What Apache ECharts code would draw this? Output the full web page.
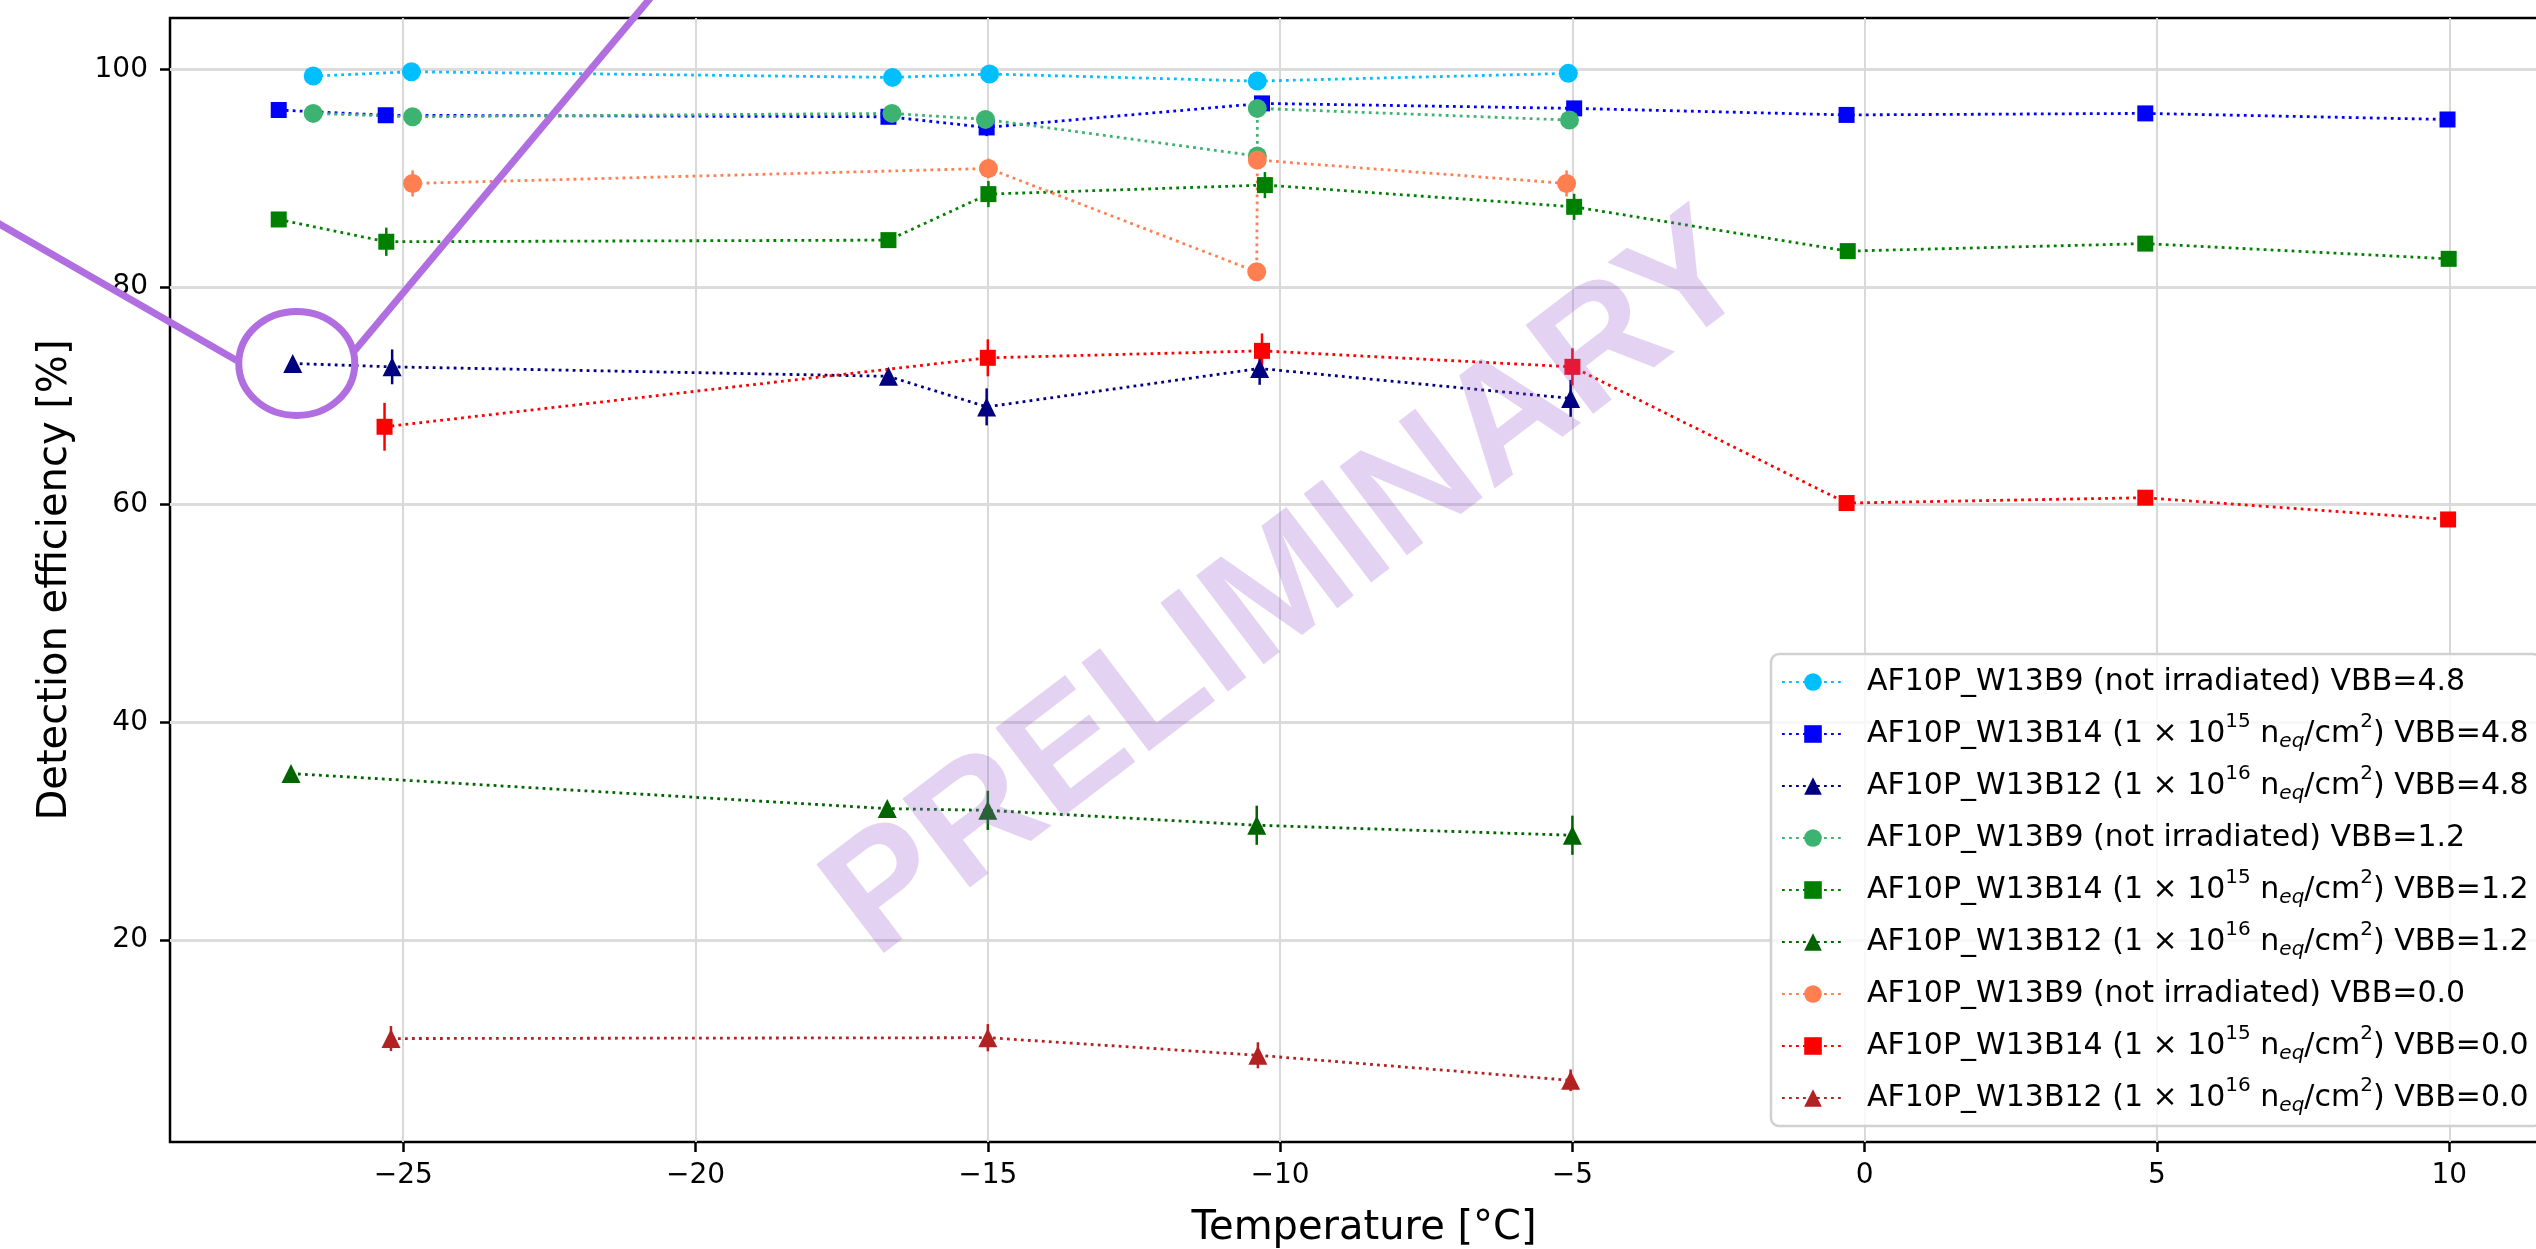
<!DOCTYPE html>
<html>
<head>
<meta charset="utf-8">
<script src="https://cdn.jsdelivr.net/npm/echarts@6/dist/echarts.min.js"></script>
<style>
  html, body { margin: 0; padding: 0; background: #fff; }
  #chart { width: 2536px; height: 1249px; }
</style>
</head>
<body>
<div id="chart"></div>
<script>
// temperature [°C], detection efficiency [%], error [%] per sample / VBB
const b9Vbb48T = [-26.54, -24.86, -16.63, -14.97, -10.39, -5.07];
const b9Vbb48E = [99.4, 99.8, 99.28, 99.59, 98.94, 99.65];
const b9Vbb48Err = [0.3, 0.25, 0.3, 0.3, 0.3, 0.3];

const b14Vbb48T = [-27.13, -25.3, -16.7, -15.02, -10.31, -4.97, -0.31, 4.8, 9.97];
const b14Vbb48E = [96.28, 95.8, 95.66, 94.68, 96.89, 96.43, 95.83, 95.97, 95.41];
const b14Vbb48Err = [0.3, 0.5, 0.4, 0.8, 0.6, 0.5, 0.3, 0.3, 0.3];

const b12Vbb48T = [-26.89, -25.19, -16.7, -15.02, -10.35, -5.03];
const b12Vbb48E = [72.98, 72.67, 71.8, 68.99, 72.52, 69.77];
const b12Vbb48Err = [0.4, 1.6, 0.5, 1.7, 1.5, 1.7];

const b9Vbb12T = [-26.54, -24.84, -16.64, -15.04, -10.39, -10.39, -5.05];
const b9Vbb12E = [95.97, 95.66, 95.97, 95.42, 92.05, 96.43, 95.36];
const b9Vbb12Err = [0.3, 0.3, 0.3, 0.3, 0.4, 0.3, 0.3];

const b14Vbb12T = [-27.13, -25.29, -16.7, -14.99, -10.26, -4.97, -0.29, 4.8, 9.99];
const b14Vbb12E = [86.22, 84.17, 84.32, 88.55, 89.38, 87.38, 83.31, 84.0, 82.6];
const b14Vbb12Err = [0.3, 1.3, 0.3, 1.2, 1.2, 1.2, 0.3, 0.3, 0.3];

const b12Vbb12T = [-26.92, -16.72, -15.0, -10.4, -5.0];
const b12Vbb12E = [35.28, 32.06, 31.9, 30.53, 29.61];
const b12Vbb12Err = [0.4, 0.4, 1.8, 1.8, 1.8];

const b9Vbb00T = [-24.84, -14.99, -10.4, -10.39, -5.1];
const b9Vbb00E = [89.53, 90.91, 81.41, 91.68, 89.53];
const b9Vbb00Err = [1.2, 0.9, 0.4, 0.5, 1.2];

const b14Vbb00T = [-25.32, -15.0, -10.31, -5.0, -0.31, 4.8, 9.98];
const b14Vbb00E = [67.16, 73.5, 74.14, 72.67, 60.15, 60.64, 58.64];
const b14Vbb00Err = [2.2, 1.7, 1.6, 1.7, 0.3, 0.3, 0.3];

const b12Vbb00T = [-25.21, -15.0, -10.38, -5.03];
const b12Vbb00E = [10.92, 11.0, 9.38, 7.08];
const b12Vbb00Err = [1.15, 1.25, 1.2, 1.0];

const seriesNames = [
  'AF10P_W13B9 (not irradiated) VBB=4.8',
  'AF10P_W13B14 (1 × 10^15 n_eq/cm^2) VBB=4.8',
  'AF10P_W13B12 (1 × 10^16 n_eq/cm^2) VBB=4.8',
  'AF10P_W13B9 (not irradiated) VBB=1.2',
  'AF10P_W13B14 (1 × 10^15 n_eq/cm^2) VBB=1.2',
  'AF10P_W13B12 (1 × 10^16 n_eq/cm^2) VBB=1.2',
  'AF10P_W13B9 (not irradiated) VBB=0.0',
  'AF10P_W13B14 (1 × 10^15 n_eq/cm^2) VBB=0.0',
  'AF10P_W13B12 (1 × 10^16 n_eq/cm^2) VBB=0.0'
];

const xTicks = [-25, -20, -15, -10, -5, 0, 5, 10];
const yTicks = [20, 40, 60, 80, 100];

const temps = [b9Vbb48T, b14Vbb48T, b12Vbb48T, b9Vbb12T, b14Vbb12T, b12Vbb12T, b9Vbb00T, b14Vbb00T, b12Vbb00T];
const effs = [b9Vbb48E, b14Vbb48E, b12Vbb48E, b9Vbb12E, b14Vbb12E, b12Vbb12E, b9Vbb00E, b14Vbb00E, b12Vbb00E];
const errs = [b9Vbb48Err, b14Vbb48Err, b12Vbb48Err, b9Vbb12Err, b14Vbb12Err, b12Vbb12Err, b9Vbb00Err, b14Vbb00Err, b12Vbb00Err];

// look of each series (matplotlib named colours)
const looks = [
  { color: '#00bfff', symbol: 'circle', size: 19 },
  { color: '#0000ff', symbol: 'rect', size: 16 },
  { color: '#000080', symbol: 'triangle', size: 19 },
  { color: '#3cb371', symbol: 'circle', size: 19 },
  { color: '#008000', symbol: 'rect', size: 16 },
  { color: '#006400', symbol: 'triangle', size: 19 },
  { color: '#ff7f50', symbol: 'circle', size: 19 },
  { color: '#ff0000', symbol: 'rect', size: 16 },
  { color: '#b22222', symbol: 'triangle', size: 19 }
];

const FONT = '"DejaVu Sans", sans-serif';

const series = [];
seriesNames.forEach((name, i) => {
  const look = looks[i];
  const pts = temps[i].map((t, k) => [t, effs[i][k], errs[i][k]]);
  series.push({
    name: name + ' err',
    type: 'custom',
    silent: true,
    data: pts,
    encode: { x: 0, y: 1 },
    renderItem: (params, api) => {
      const x = api.value(0), y = api.value(1), e = api.value(2);
      const lo = api.coord([x, y - e]);
      const hi = api.coord([x, y + e]);
      return {
        type: 'line',
        shape: { x1: lo[0], y1: lo[1], x2: hi[0], y2: hi[1] },
        style: { stroke: look.color, lineWidth: 2.5 }
      };
    }
  });
  series.push({
    name: name,
    type: 'line',
    data: pts.map(p => [p[0], p[1]]),
    symbol: look.symbol,
    symbolSize: look.size,
    showAllSymbol: true,
    itemStyle: { color: look.color },
    lineStyle: { color: look.color, width: 2.8, type: [2.8, 4.2] },
    emphasis: { disabled: true },
    animation: false
  });
});

function richName(n) {
  return n.replace(/\^(\d+)/g, '{sup|$1}').replace(/_eq/g, '{sub|eq}');
}

const chart = echarts.init(document.getElementById('chart'));

chart.setOption({
  animation: false,
  backgroundColor: '#fff',
  grid: {
    left: 170, top: 18, right: -22, bottom: 107,
    containLabel: false, outerBoundsMode: 'none',
    show: true, borderColor: '#000', borderWidth: 2.5, backgroundColor: 'transparent'
  },
  xAxis: {
    type: 'value',
    min: -28.99,
    max: 11.86,
    name: 'Temperature [°C]',
    nameLocation: 'middle',
    nameGap: 67,
    nameTextStyle: { fontFamily: FONT, fontSize: 40, color: '#000' },
    axisLine: { show: false, onZero: false },
    axisTick: { show: true, inside: false, length: 10, lineStyle: { color: '#000', width: 2.5 }, customValues: xTicks },
    axisLabel: {
      customValues: xTicks,
      formatter: v => String(v).replace('-', '\u2212'),
      fontFamily: FONT, fontSize: 28, color: '#000', margin: 20
    },
    splitLine: { show: true, lineStyle: { color: '#d9d9d9', width: 2 } }
  },
  yAxis: {
    type: 'value',
    min: 1.41,
    max: 104.74,
    name: 'Detection efficiency [%]',
    nameLocation: 'middle',
    nameGap: 94,
    nameTextStyle: { fontFamily: FONT, fontSize: 40, color: '#000' },
    axisLine: { show: false, onZero: false },
    axisTick: { show: true, inside: false, length: 10, lineStyle: { color: '#000', width: 2.5 }, customValues: yTicks },
    axisLabel: {
      customValues: yTicks,
      fontFamily: FONT, fontSize: 28, color: '#000', margin: 22
    },
    splitLine: { show: true, lineStyle: { color: '#dcdcdc', width: 3 } }
  },
  legend: {
    data: seriesNames,
    orient: 'vertical',
    left: 1771,
    top: 654,
    itemWidth: 62,
    itemHeight: 22,
    itemGap: 0,
    padding: [2, 12, 2, 10],
    backgroundColor: 'rgba(255,255,255,0.8)',
    borderColor: '#d0d0d0',
    borderWidth: 2.5,
    borderRadius: 8,
    selectedMode: false,
    formatter: richName,
    textStyle: {
      fontFamily: FONT, fontSize: 30, color: '#000', lineHeight: 52,
      padding: [0, 0, 0, 18],
      rich: {
        sup: { fontFamily: FONT, fontSize: 20, color: '#000', lineHeight: 22, padding: [0, 0, 24, 0] },
        sub: { fontFamily: FONT, fontSize: 20, color: '#000', fontStyle: 'italic', lineHeight: 22, padding: [16, 0, 0, 0] }
      }
    }
  },
  series: series
});

// annotation drawn around the first VBB=4.8 W13B12 point, plus the watermark
const c = chart.convertToPixel({ gridIndex: 0 }, [b12Vbb48T[0], b12Vbb48E[0]]);
const cx = c[0] + 4, cy = c[1];
const purple = '#b06ee0';
chart.setOption({
  graphic: [
    {
      type: 'text', z: 50, x: 1290, y: 588, rotation: 0.65,
      style: {
        text: 'PRELIMINARY', font: 'bold 162px "Liberation Sans", sans-serif',
        fill: 'rgba(155,89,208,0.27)', align: 'center', verticalAlign: 'middle'
      },
      silent: true
    },
    {
      type: 'ellipse', z: 60, shape: { cx: cx, cy: cy, rx: 58, ry: 52 },
      style: { fill: 'none', stroke: purple, lineWidth: 7 }, silent: true
    },
    {
      type: 'line', z: 60, shape: { x1: cx - 300, y1: cy - 141, x2: cx - 60, y2: cy - 3 },
      style: { stroke: purple, lineWidth: 7 }, silent: true
    },
    {
      type: 'line', z: 60, shape: { x1: cx + 58, y1: cy - 13, x2: cx + 370, y2: cy - 385 },
      style: { stroke: purple, lineWidth: 7 }, silent: true
    }
  ]
});
</script>
</body>
</html>
